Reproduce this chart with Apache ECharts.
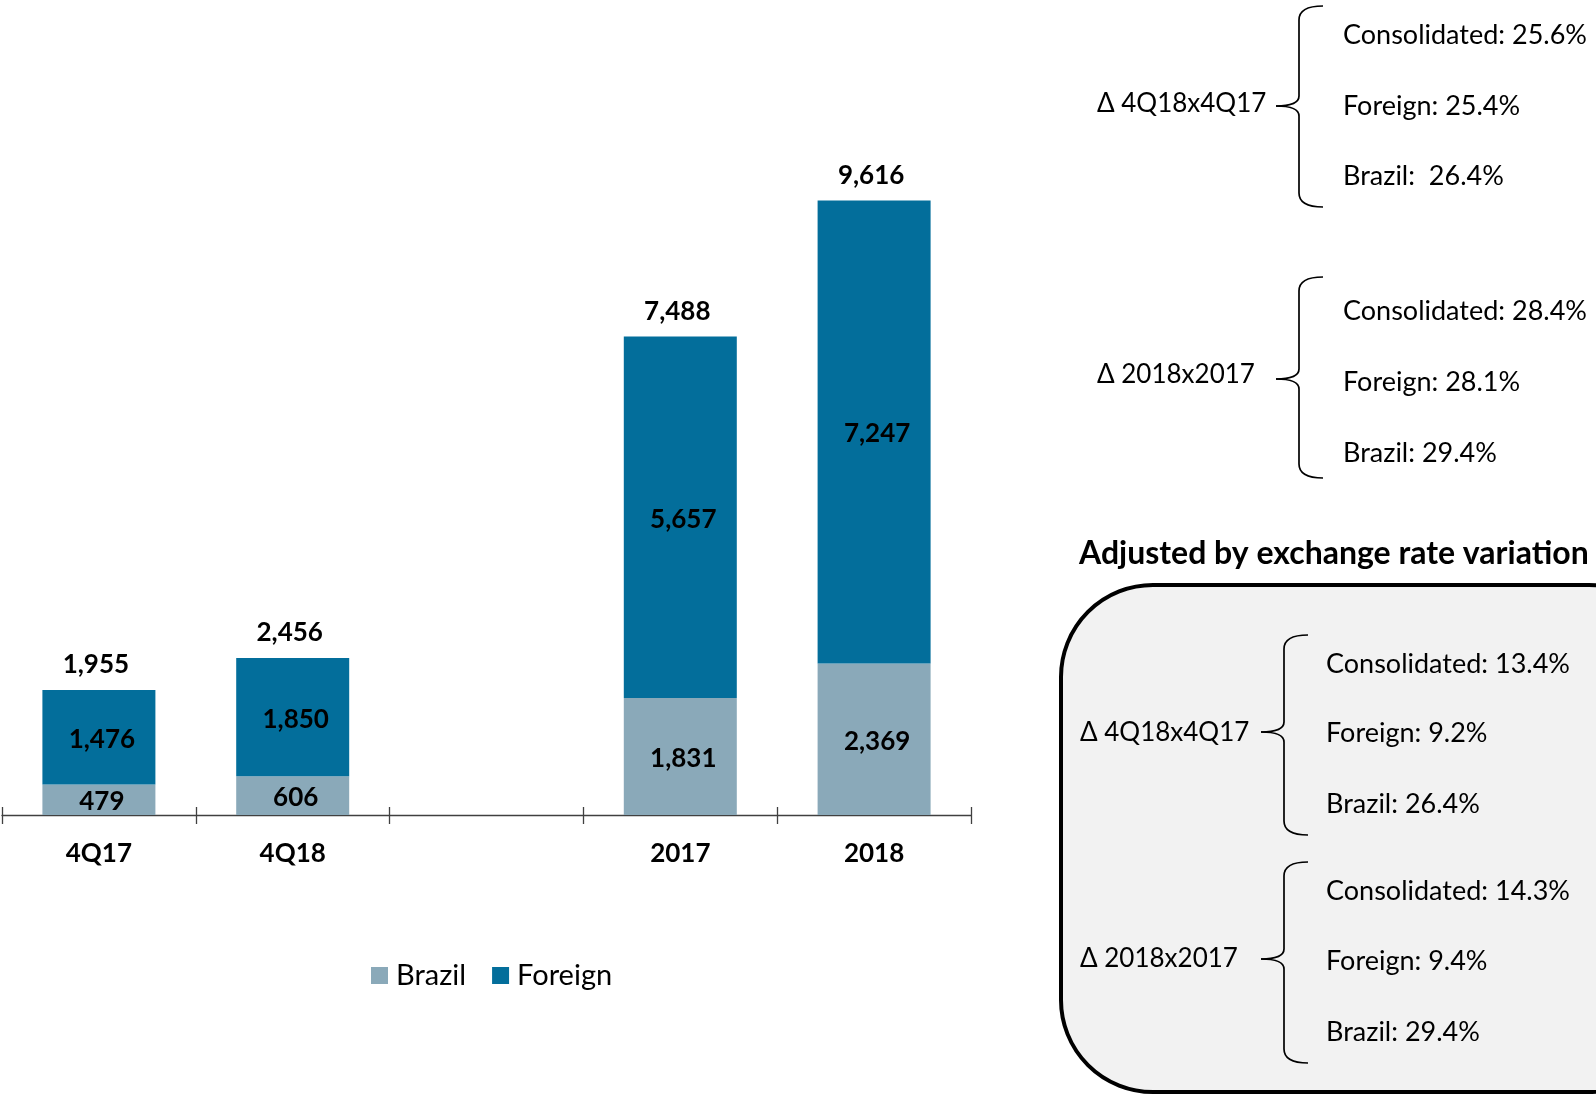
<!DOCTYPE html>
<html>
<head>
<meta charset="utf-8">
<script src="https://cdn.jsdelivr.net/npm/echarts@6/dist/echarts.min.js"></script>
<style>
html,body{margin:0;padding:0;background:#fff;}
#chart{width:1596px;height:1095px;}
</style>
</head>
<body>
<div id="chart"></div>
<script>
// ---- data ----
const categories = ['4Q17', '4Q18', '', '2017', '2018'];
const brazil = [479, 606, null, 1831, 2369];
const foreign = [1476, 1850, null, 5657, 7247];
const totals = [1955, 2456, null, 7488, 9616];

const panelTitle = 'Adjusted by exchange rate variation';
const groupLabels = ['\u0394 4Q18x4Q17', '\u0394 2018x2017', '\u0394 4Q18x4Q17', '\u0394 2018x2017'];
const groupLines = [
  ['Consolidated: 25.6%', 'Foreign: 25.4%', 'Brazil:  26.4%'],
  ['Consolidated: 28.4%', 'Foreign: 28.1%', 'Brazil: 29.4%'],
  ['Consolidated: 13.4%', 'Foreign: 9.2%', 'Brazil: 26.4%'],
  ['Consolidated: 14.3%', 'Foreign: 9.4%', 'Brazil: 29.4%']
];

// ---- styling / layout ----
const FONT = 'Lato, "Open Sans", "Noto Sans", sans-serif';
const C_BRAZIL = '#8aa9b9';
const C_FOREIGN = '#036e9b';
const fmt = v => (v == null ? '' : v.toLocaleString('en-US'));

const groups = [
  {lx: 1097, ly: 104, bx: 1299, top: 6, bot: 207, tip: 1323, px: 1276, my: 106, tx: 1343, ys: [35, 106, 176]},
  {lx: 1097, ly: 375, bx: 1299, top: 277, bot: 478, tip: 1323, px: 1276, my: 379, tx: 1343, ys: [311, 382, 453]},
  {lx: 1080, ly: 733, bx: 1284, top: 635, bot: 835, tip: 1308, px: 1261, my: 732, tx: 1326, ys: [664, 733, 804]},
  {lx: 1080, ly: 959, bx: 1284, top: 862, bot: 1063, tip: 1308, px: 1261, my: 959, tx: 1326, ys: [891, 961, 1032]}
];

const braceStyle = {fill: null, stroke: '#000', lineWidth: 1.7};
function braceParts(g) {
  const r = 14, m = 10;
  return [
    {type: 'bezierCurve', z: 5, shape: {x1: g.tip, y1: g.top, cpx1: g.bx, cpy1: g.top, x2: g.bx, y2: g.top + r}, style: braceStyle},
    {type: 'line', z: 5, shape: {x1: g.bx, y1: g.top + r, x2: g.bx, y2: g.my - m}, style: braceStyle},
    {type: 'bezierCurve', z: 5, shape: {x1: g.bx, y1: g.my - m, cpx1: g.bx, cpy1: g.my, x2: g.px, y2: g.my}, style: braceStyle},
    {type: 'bezierCurve', z: 5, shape: {x1: g.px, y1: g.my, cpx1: g.bx, cpy1: g.my, x2: g.bx, y2: g.my + m}, style: braceStyle},
    {type: 'line', z: 5, shape: {x1: g.bx, y1: g.my + m, x2: g.bx, y2: g.bot - r}, style: braceStyle},
    {type: 'bezierCurve', z: 5, shape: {x1: g.bx, y1: g.bot - r, cpx1: g.bx, cpy1: g.bot, x2: g.tip, y2: g.bot}, style: braceStyle}
  ];
}

const graphics = [];
graphics.push({
  type: 'rect', z: 0,
  shape: {x: 1061, y: 585, width: 620, height: 507, r: 92},
  style: {fill: '#f2f2f2', stroke: '#000', lineWidth: 4}
});
graphics.push({
  type: 'text', z: 5,
  style: {text: panelTitle, x: 1079, y: 554, font: 'bold 32px ' + FONT, fill: '#000',
          textVerticalAlign: 'middle', verticalAlign: 'middle'}
});
groups.forEach((g, i) => {
  braceParts(g).forEach(p => graphics.push(p));
  graphics.push({
    type: 'text', z: 5,
    style: {text: groupLabels[i], x: g.lx, y: g.ly, font: '26px ' + FONT, fill: '#000',
            textVerticalAlign: 'middle', verticalAlign: 'middle'}
  });
  groupLines[i].forEach((t, j) => {
    graphics.push({
      type: 'text', z: 5,
      style: {text: t, x: g.tx, y: g.ys[j], font: '27px ' + FONT, fill: '#000',
              textVerticalAlign: 'middle', verticalAlign: 'middle'}
    });
  });
});

const chart = echarts.init(document.getElementById('chart'));
chart.setOption({
  animation: false,
  backgroundColor: '#fff',
  textStyle: {fontFamily: FONT},
  grid: {left: 2, right: 625, top: 176, bottom: 280, containLabel: false},
  legend: {
    data: ['Brazil', 'Foreign'],
    left: 371, top: 961, padding: 0,
    itemWidth: 17, itemHeight: 17, itemGap: 26,
    icon: 'rect',
    textStyle: {fontSize: 29, color: '#000', fontFamily: FONT, padding: [0, 0, 0, 3]}
  },
  xAxis: [
    {
      type: 'category', data: categories, position: 'bottom',
      axisLine: {show: true, lineStyle: {color: '#404040', width: 1.3}},
      axisTick: {show: true, length: 9, lineStyle: {color: '#404040', width: 1.3}},
      axisLabel: {fontSize: 26, fontWeight: 'bold', color: '#000', margin: 26, fontFamily: FONT}
    },
    {
      type: 'category', data: categories, position: 'bottom', gridIndex: 0,
      axisLine: {show: false},
      axisTick: {show: true, inside: true, length: 8, lineStyle: {color: '#404040', width: 1.3}},
      axisLabel: {show: false}
    }
  ],
  yAxis: {type: 'value', min: 0, max: 10000, show: false, splitLine: {show: false}},
  series: [
    {
      name: 'Brazil', type: 'bar', stack: 'a', data: brazil, barWidth: 113,
      itemStyle: {color: C_BRAZIL},
      label: {show: true, position: 'inside', offset: [3, 2], fontSize: 26, fontWeight: 'bold', color: '#000',
              fontFamily: FONT, formatter: p => fmt(p.value)}
    },
    {
      name: 'Foreign', type: 'bar', stack: 'a', data: foreign, barWidth: 113,
      itemStyle: {color: C_FOREIGN},
      label: {show: true, position: 'inside', offset: [3, 2], fontSize: 26, fontWeight: 'bold', color: '#000',
              fontFamily: FONT, formatter: p => fmt(p.value)}
    },
    {
      name: 'Total', type: 'bar', data: totals, barWidth: 113, barGap: '-100%',
      itemStyle: {color: 'rgba(0,0,0,0)'}, z: 1, silent: true,
      label: {show: true, position: 'top', distance: 12, offset: [-3, 0], fontSize: 26, fontWeight: 'bold', color: '#000',
              fontFamily: FONT, formatter: p => fmt(p.value)}
    }
  ],
  graphic: graphics
});
</script>
</body>
</html>
